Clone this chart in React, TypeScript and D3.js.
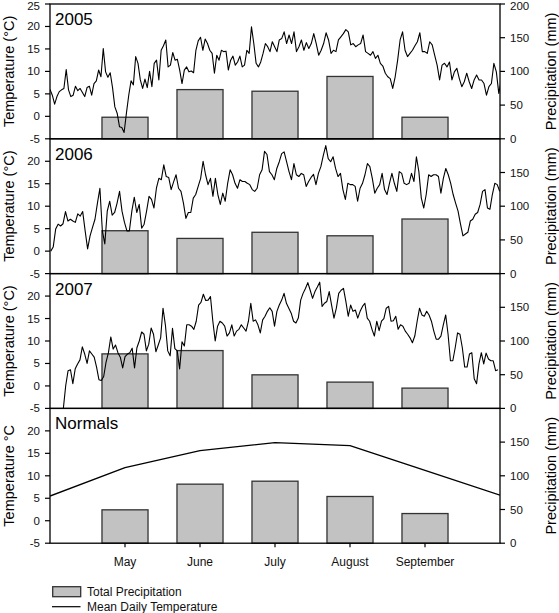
import React from 'react';
import * as d3 from 'd3';

// ---------- data ----------
const monthLabels = ['May', 'June', 'July', 'August', 'September'];
const monthPos = [5, 6, 7, 8, 9];

const precip2005 = [32, 73, 70.6, 92.5, 32];
const precip2006 = [63.6, 52.2, 61.3, 56.1, 81];
const precip2007 = [80.9, 85.8, 49.8, 39, 30.1];
const precipNormals = [49.5, 87.6, 92, 69.3, 44];

const normalsTempPos = [4, 5, 6, 7, 8, 9, 10];
const normalsTemp = [5.5, 11.8, 15.6, 17.4, 16.7, 11.2, 5.7];

// daily mean temperature readings, first part (early season) and second part (late season)
const temp2005a = [
  6, 4.7, 2.7, 4.4, 5.5, 5.9, 6.2, 10.4, 5.9, 4.4,
  4.7, 6.7, 5.7, 6.2, 5.3, 4.4, 6.4, 6.7, 4.7, 7.3,
  7.9, 10.3, 8.8, 15.1, 9.9, 8.7, 9.7, 6.4, 2.1, 0.7,
  -2.3, -2.5, -3.6, 0.7, 4.7, 7.9, 7, 13.3, 11.8, 8.1,
  6.2, 8.3, 6.4, 10, 6.6, 11.8, 12.5, 8.1, 14.7, 15.7,
  17, 11, 11.4, 14.2, 12.5, 12.7, 10.3, 7.3, 10.3, 11,
  9.9, 10.1, 9.7, 14.7, 16.8, 17.6, 14.7, 17.2, 16.2, 14.7,
  14, 9.6, 13.6, 12.5, 14.7, 14.4, 14.5, 10.3, 12.5, 13.4,
  11.4, 12.1, 13.4, 11, 11.4, 14.7, 14, 19.9, 16.2, 11.8,
  11, 12.1, 14, 16.2, 15.5, 14.4, 16.6, 15.5, 14.4, 17,
];
const temp2005b = [
  17.3, 18.8, 16.2, 18.1, 16.2, 18.8, 14.4, 15.5, 17, 14.7,
  16.4, 15.1, 16.2, 18.4, 16.2, 13.6, 14.7, 16.2, 18.6, 17,
  14, 14.7, 14.4, 17, 17.7, 18.4, 19.3, 18.8, 15.9, 16.2,
  15.5, 15.9, 16.2, 18.1, 14.4, 14, 13.6, 14.4, 12.9, 13.6,
  11.8, 11.2, 9.6, 8.8, 8.4, 6.2, 8.8, 12.5, 17, 18.8,
  14.7, 13.3, 14, 14.7, 15.7, 16.6, 18.6, 14.4, 14.4, 14,
  16.6, 15.9, 13.6, 11.4, 8.1, 11.4, 11.8, 11, 12.1, 8.1,
  9.9, 10.7, 8.4, 6.6, 7.7, 9.6, 7.7, 6.2, 8.1, 9.2,
  8.1, 8.1, 7.3, 4.7, 6.6, 7.3, 11.8, 9.9, 5.1, 8.1,
];
const temp2006a = [
  0, 0.9, 4.9, 6, 5.6, 6.1, 8.8, 6.7, 7.1, 6.7,
  6.4, 8.3, 7.8, 8.8, 4.5, 0.5, 3.4, 5.3, 7.1, 10.7,
  14, 4.5, 1.6, 8.9, 11.1, 8, 8.6, 10.7, 13.3, 8.9,
  6.4, 4.5, 4.5, 8.9, 12, 8.6, 10.4, 5.1, 6, 8.9,
  12.2, 11.5, 9.6, 14, 16.2, 15.9, 19.2, 16.6, 16.4, 13.7,
  15.4, 17, 14, 13.3, 10.7, 7.3, 8.6, 8.6, 11.8, 12.6,
  14.4, 16.2, 20, 17, 14.8, 16.2, 12.2, 16.2, 12.6, 10.4,
  12.9, 11.1, 15.1, 18.1, 17, 15.1, 14, 15.9, 15.5, 15.5,
  15.1, 14.8, 13.7, 13.3, 14, 17, 18.1, 22.2, 21.5, 17.7,
  17, 15.9, 18.4, 19.9,
];
const temp2006b = [
  21.7, 22.1, 19.9, 17.7, 15.9, 19.5, 17, 16.6, 17.3, 17,
  14.4, 15.5, 16.4, 17.1, 14.8, 17.3, 18.8, 21.3, 23.5, 20.6,
  19.9, 21, 18.4, 16.6, 17.3, 13.7, 11.5, 15.1, 14.8, 14.8,
  14.4, 11.1, 14, 15.1, 17, 19.5, 18.8, 16.2, 12.9, 14,
  14.8, 17.3, 13.7, 12.6, 15.1, 17.3, 15.1, 13.3, 17.7, 17.3,
  15.1, 14.8, 15.1, 17.3, 15.5, 21, 17.7, 11.8, 9.6, 12.6,
  17, 16.6, 17, 17, 16.6, 12.9, 16.2, 18.4, 17, 15.1,
  12.6, 10.7, 8.9, 6, 3.4, 3.8, 4.2, 6.7, 7.1, 8.2,
  8.6, 10.4, 13.3, 13.7, 9.6, 9.3, 12.6, 15.1, 14.8, 13.3,
];
const temp2007a = [
  -5, 0.1, 3.4, 3.6, 0.5, 3.8, 4.9, 5.8, 8.7, 7.1,
  5, 7.8, 7.1, 6.4, 4.2, 1.4, 1.2, 2.1, 5.3, 7.4,
  10.9, 8.2, 9.1, 7.4, 6.4, 4, 6.5, 7.1, 7.4, 8.4,
  4, 8.5, 10, 12, 11.5, 7.8, 9.3, 12.9, 11.5, 7.6,
  9.1, 10.7, 17.3, 13.6, 7.8, 6.7, 12.8, 8.3, 7.8, 3.8,
  9.8, 8.9, 13.6, 13.6, 13.3, 12.6, 14.4, 18, 18.6, 20.4,
  19, 19.1, 19.9, 14.4, 10, 13.3, 14.4, 14, 13.3, 11.1,
  11.8, 13.6, 11.1, 12.2, 12.6, 13.6, 12.9, 12.2, 14.4, 18.4,
  14.4, 14.7, 13.6, 11.8, 14.7, 15.5, 16.6, 17.4, 16.6, 13.3,
  16.6, 18,
];
const temp2007b = [
  19.1, 20.6, 18.4, 17.3, 16.2, 14.4, 14, 15.1, 19.1, 20.6,
  21.7, 23, 21.3, 19.5, 21, 22, 23.1, 17.7, 18.4, 18.8,
  21, 18, 15.1, 17.3, 20.6, 21.3, 21.7, 18.8, 15.5, 18,
  16.6, 16.9, 15.1, 16.6, 17.7, 18.4, 15.1, 14.4, 12.6, 11.1,
  14.4, 12.3, 14.4, 15, 17.3, 17.7, 14.4, 14.5, 15.5, 12.6,
  13.6, 13.3, 12.2, 11.5, 10.7, 9.6, 11.1, 14.4, 17.3, 15.8,
  15.5, 16.6, 15.8, 14.4, 12.2, 10.4, 10.4, 11.1, 13.6, 15.8,
  11.5, 5.6, 5.6, 8.5, 11.8, 11.5, 8.5, 4.2, 4.2, 7.1,
  7.4, 1.6, 0.5, 4.9, 7.4, 4.9, 7.3, 6, 5.6, 5.6,
  3.4, 3.6,
];

// time span (in month units, 4 = start of April) covered by each part of the readings
const partAEnd = 7.057;
const partBStart = 7.089;

const tempTicksFirst = [-5, 0, 5, 10, 15, 20, 25];
const tempTicks = [-5, 0, 5, 10, 15, 20];
const precipTicksFirst = [0, 50, 100, 150, 200];
const precipTicks = [0, 50, 100, 150];

type Panel = {
  label: string;
  yTitle: string;
  precip: number[];
  daily?: { a: number[]; b: number[]; start: number; end: number };
};

const panels: Panel[] = [
  { label: '2005', yTitle: 'Temperature (°C)', precip: precip2005, daily: { a: temp2005a, b: temp2005b, start: 4.0, end: 10.017 } },
  { label: '2006', yTitle: 'Temperature (°C)', precip: precip2006, daily: { a: temp2006a, b: temp2006b, start: 4.01, end: 9.996 } },
  { label: '2007', yTitle: 'Temperature (°C)', precip: precip2007, daily: { a: temp2007a, b: temp2007b, start: 4.178, end: 9.973 } },
  { label: 'Normals', yTitle: 'Temperature °C', precip: precipNormals },
];

// ---------- layout ----------
const W = 559;
const H = 613;
const L = 50;
const R = 500;
const TOP = 4;
const PH = 134.8;
const FONT = "'Liberation Sans', Arial, Helvetica, sans-serif";
const BAR_HALF = 0.307;

export default function App() {
  const x = d3.scaleLinear().domain([4, 10]).range([L, R]);

  return (
    <svg
      width={W}
      height={H}
      viewBox={`0 0 ${W} ${H}`}
      style={{ position: 'absolute', left: 0, top: 0, background: '#fff' }}
      fontFamily={FONT}
    >
      <rect x={0} y={0} width={W} height={H} fill="#fff" />
      {panels.map((p, pi) => {
        const top = TOP + pi * PH;
        const bottom = top + PH;
        const yT = d3.scaleLinear().domain([-5, 25]).range([bottom, top]);
        const yP = d3.scaleLinear().domain([0, 200]).range([bottom, top]);
        const clipId = `clip${pi}`;
        let pts: [number, number][] = [];
        if (p.daily) {
          const { a, b, start, end } = p.daily;
          const sa = d3.scaleLinear().domain([0, a.length - 1]).range([start, partAEnd]);
          const sb = d3.scaleLinear().domain([0, b.length - 1]).range([partBStart, end]);
          pts = [
            ...a.map((v, i) => [sa(i), v] as [number, number]),
            ...b.map((v, i) => [sb(i), v] as [number, number]),
          ];
        } else {
          pts = normalsTempPos.map((m, i) => [m, normalsTemp[i]] as [number, number]);
        }
        const line = d3
          .line<[number, number]>()
          .x((d) => x(d[0]))
          .y((d) => yT(d[1]));
        const lt = pi === 0 ? tempTicksFirst : tempTicks;
        const rt = pi === 0 ? precipTicksFirst : precipTicks;
        return (
          <g key={pi}>
            <defs>
              <clipPath id={clipId}>
                <rect x={L} y={top} width={R - L} height={PH} />
              </clipPath>
            </defs>
            {p.precip.map((v, i) => {
              const x0 = x(monthPos[i] - BAR_HALF);
              const x1 = x(monthPos[i] + BAR_HALF);
              return (
                <rect
                  key={i}
                  x={x0}
                  y={yP(v)}
                  width={x1 - x0}
                  height={yP(0) - yP(v)}
                  fill="#c2c2c2"
                  stroke="#333"
                  strokeWidth={1.3}
                />
              );
            })}
            <path
              d={line(pts) || ''}
              fill="none"
              stroke="#000"
              strokeWidth={pi === 3 ? 1.3 : 1.1}
              strokeLinejoin="round"
              clipPath={`url(#${clipId})`}
            />
            <rect x={L} y={top} width={R - L} height={PH} fill="none" stroke="#000" strokeWidth={1.3} />
            {lt.map((t) => (
              <g key={`l${t}`}>
                <line x1={L - 5} x2={L} y1={yT(t)} y2={yT(t)} stroke="#000" strokeWidth={1.2} />
                <text
                  x={40}
                  y={Math.max(yT(t), 5.5)}
                  dy="0.35em"
                  textAnchor="end"
                  fontSize={11.5}
                  fill="#111"
                >
                  {t}
                </text>
              </g>
            ))}
            {rt.map((t) => (
              <g key={`r${t}`}>
                <line x1={R} x2={R + 5} y1={yP(t)} y2={yP(t)} stroke="#000" strokeWidth={1.2} />
                <text
                  x={510}
                  y={Math.max(yP(t), 5.5)}
                  dy="0.35em"
                  textAnchor="start"
                  fontSize={11.5}
                  fill="#111"
                >
                  {t}
                </text>
              </g>
            ))}
            <text x={55} y={top + 21} fontSize={17} fill="#000">
              {p.label}
            </text>
            <text
              transform={`translate(13.5,${(top + bottom) / 2}) rotate(-90)`}
              textAnchor="middle"
              fontSize={14.5}
              fill="#000"
            >
              {p.yTitle}
            </text>
            <text
              transform={`translate(555.5,${(top + bottom) / 2}) rotate(-90)`}
              textAnchor="middle"
              fontSize={14.5}
              fill="#000"
            >
              Precipitation (mm)
            </text>
          </g>
        );
      })}
      {monthPos.map((m, i) => (
        <g key={m}>
          <line x1={x(m)} x2={x(m)} y1={TOP + 4 * PH} y2={TOP + 4 * PH + 4} stroke="#000" strokeWidth={1.2} />
          <text x={x(m)} y={566} textAnchor="middle" fontSize={12} fill="#111">
            {monthLabels[i]}
          </text>
        </g>
      ))}
      <rect x={52.7} y={586.7} width={28} height={10} fill="#c2c2c2" stroke="#333" strokeWidth={1.3} />
      <text x={87} y={596} fontSize={12} fill="#111">
        Total Precipitation
      </text>
      <line x1={52} x2={80.5} y1={606.7} y2={606.7} stroke="#000" strokeWidth={1.2} />
      <text x={87} y={611} fontSize={12} fill="#111">
        Mean Daily Temperature
      </text>
    </svg>
  );
}
